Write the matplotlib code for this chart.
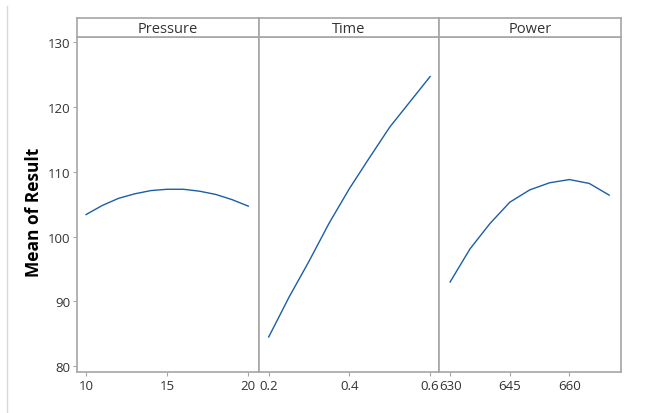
import matplotlib
matplotlib.use("Agg")
import matplotlib.pyplot as plt
from matplotlib.lines import Line2D

plt.rcParams['font.family'] = ['Open Sans', 'DejaVu Sans']

#mean of result
pressure = [10, 11, 12, 13, 14, 15, 16, 17, 18, 19, 20]
pressure_mean = [103.4, 104.8, 105.9, 106.6, 107.1, 107.3, 107.3, 107.0, 106.5, 105.7, 104.7]

time = [0.2, 0.25, 0.3, 0.35, 0.4, 0.45, 0.5, 0.55, 0.6]
time_mean = [84.5, 90.6, 96.2, 102.1, 107.4, 112.2, 116.9, 120.8, 124.7]

power = [630, 635, 640, 645, 650, 655, 660, 665, 670]
power_mean = [93.0, 98.1, 102.0, 105.3, 107.2, 108.3, 108.8, 108.2, 106.4]

panels = [
	("Pressure", pressure, pressure_mean, [10, 15, 20], ["10", "15", "20"], (9.44, 20.66)),
	("Time", time, time_mean, [0.2, 0.4, 0.6], ["0.2", "0.4", "0.6"], (0.176, 0.622)),
	("Power", power, power_mean, [630, 645, 660], ["630", "645", "660"], (627.2, 672.9)),
]

W, H = 646, 414
edges = [77, 259, 439, 620.7]
grey = "#a6a6a6"
blue = "#1a5ea8"

fig = plt.figure(figsize=(W / 100, H / 100), dpi=100)

#light frame line on the left edge
fig.add_artist(Line2D([7 / W, 7 / W], [0, 1 - 7 / H], color="#d9d9d9", lw=1))

for i, (name, xs, ys, ticks, labels, xlim) in enumerate(panels):
	left = edges[i] / W
	width = (edges[i + 1] - edges[i]) / W
	ax = fig.add_axes([left, (H - 373) / H, width, (373 - 38) / H])
	ax.plot(xs, ys, color=blue, lw=1)
	ax.set_xlim(*xlim)
	ax.set_ylim(79.1, 130.8)
	ax.set_xticks(ticks)
	ax.set_xticklabels(labels)
	for s in ax.spines.values():
		s.set_color(grey)
		s.set_linewidth(1.2)
	ax.tick_params(axis="x", colors=grey, labelcolor="#333333", labelsize=9.5, length=3, pad=2)
	if i == 0:
		ax.set_yticks([80, 90, 100, 110, 120, 130])
		ax.tick_params(axis="y", colors=grey, labelcolor="#333333", labelsize=9.5, length=3, pad=2)
		ax.set_ylabel("Mean of Result", fontsize=12.5, fontweight="bold", labelpad=0)
		ax.yaxis.set_label_coords(-34 / (edges[1] - edges[0]), 0.48)
	else:
		ax.set_yticks([])

	#header strip with the factor name
	hd = fig.add_axes([left, (H - 38) / H, width, 19 / H])
	hd.set_xticks([])
	hd.set_yticks([])
	for s in hd.spines.values():
		s.set_color(grey)
		s.set_linewidth(1.2)
	hd.text(0.5, 0.45, name, ha="center", va="center", fontsize=10.5, color="#333333", transform=hd.transAxes)

fig.savefig("out.png", dpi=100)
